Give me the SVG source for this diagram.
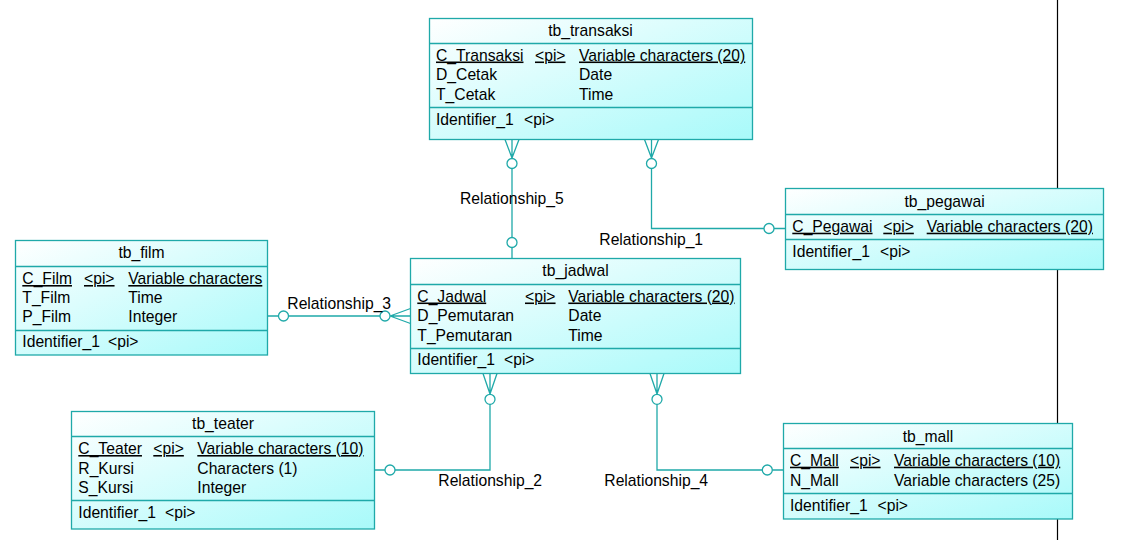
<svg xmlns="http://www.w3.org/2000/svg" width="1121" height="540" viewBox="0 0 1121 540">
<defs>
<linearGradient id="g" x1="0" y1="0" x2="1" y2="1">
<stop offset="0" stop-color="#ffffff"/>
<stop offset="1" stop-color="#a8fafa"/>
</linearGradient>
<style>
.box{fill:url(#g);stroke:#1fa9a9;stroke-width:1.3}
.div{stroke:#1fa9a9;stroke-width:1.3}
text{font-family:"Liberation Sans",Arial,sans-serif;font-size:15.7px;fill:#000}
.t{text-anchor:middle}
.u{text-decoration:underline}
.c{fill:none;stroke:#1fa9a9;stroke-width:1.3}
.ci{fill:#fff;stroke:#1fa9a9;stroke-width:1.3}
</style>
</defs>
<rect width="1121" height="540" fill="#fff"/>
<line x1="1057.5" y1="0" x2="1057.5" y2="540" stroke="#000" stroke-width="1.2"/>

<g id="connectors">
<!-- Relationship_5 -->
<path class="c" d="M512,158 L505,139.5 M512,158 L512,139.5 M512,158 L519,139.5 M512,168.5 L512,237.5 M512,247.5 L512,258.5"/>
<circle class="ci" cx="512" cy="163.5" r="5"/>
<circle class="ci" cx="512" cy="242.5" r="5"/>
<text x="460" y="203.5">Relationship_5</text>
<!-- Relationship_1 -->
<path class="c" d="M651.5,158 L644.5,139.5 M651.5,158 L651.5,139.5 M651.5,158 L658.5,139.5 M651.5,168.5 L651.5,228.5 L764,228.5 M774,228.5 L785.5,228.5"/>
<circle class="ci" cx="651.5" cy="163.5" r="5"/>
<circle class="ci" cx="769" cy="228.5" r="5"/>
<text x="599.3" y="244.5">Relationship_1</text>
<!-- Relationship_3 -->
<path class="c" d="M267.5,316 L278.5,316 M288.5,316 L380,316 M390,316 L410.5,308.5 M390,316 L410.5,316 M390,316 L410.5,323.5"/>
<circle class="ci" cx="283.5" cy="316" r="5"/>
<circle class="ci" cx="385" cy="316" r="5"/>
<text x="287.3" y="309">Relationship_3</text>
<!-- Relationship_2 -->
<path class="c" d="M490,394 L483,373.5 M490,394 L490,373.5 M490,394 L497,373.5 M490,404.3 L490,470 L395,470 M385,470 L374.5,470"/>
<circle class="ci" cx="490" cy="399.3" r="5"/>
<circle class="ci" cx="390" cy="470" r="5"/>
<text x="438.3" y="486">Relationship_2</text>
<!-- Relationship_4 -->
<path class="c" d="M657,394 L650,373.5 M657,394 L657,373.5 M657,394 L664,373.5 M657,404.3 L657,470 L762.3,470 M772.3,470 L783.5,470"/>
<circle class="ci" cx="657" cy="399.3" r="5"/>
<circle class="ci" cx="767.3" cy="470" r="5"/>
<text x="604.3" y="485.5">Relationship_4</text>
</g>

<g id="tb_transaksi">
<rect class="box" x="429.5" y="18.5" width="323" height="121"/>
<line class="div" x1="429.5" y1="43.5" x2="752.5" y2="43.5"/>
<line class="div" x1="429.5" y1="107.5" x2="752.5" y2="107.5"/>
<text class="t" x="590.5" y="36">tb_transaksi</text>
<text class="u" x="436" y="60.5">C_Transaksi</text>
<text class="u" x="535" y="60.5">&lt;pi&gt;</text>
<text class="u" x="579" y="60.5">Variable characters (20)</text>
<text x="436" y="80">D_Cetak</text>
<text x="579" y="80">Date</text>
<text x="436" y="99.5">T_Cetak</text>
<text x="579" y="99.5">Time</text>
<text x="436" y="125">Identifier_1</text>
<text x="524" y="125">&lt;pi&gt;</text>
</g>

<g id="tb_film">
<rect class="box" x="15.5" y="240.5" width="252" height="114.5"/>
<line class="div" x1="15.5" y1="266.5" x2="267.5" y2="266.5"/>
<line class="div" x1="15.5" y1="330.5" x2="267.5" y2="330.5"/>
<text class="t" x="141.5" y="258">tb_film</text>
<text class="u" x="22.3" y="284">C_Film</text>
<text class="u" x="84" y="284">&lt;pi&gt;</text>
<text class="u" x="128.3" y="284">Variable characters</text>
<text x="22.3" y="303">T_Film</text>
<text x="128.3" y="303">Time</text>
<text x="22.3" y="322">P_Film</text>
<text x="128.3" y="322">Integer</text>
<text x="22.3" y="347.3">Identifier_1</text>
<text x="108" y="347.3">&lt;pi&gt;</text>
</g>

<g id="tb_jadwal">
<rect class="box" x="410.5" y="258.5" width="330" height="115"/>
<line class="div" x1="410.5" y1="284.5" x2="740.5" y2="284.5"/>
<line class="div" x1="410.5" y1="348.5" x2="740.5" y2="348.5"/>
<text class="t" x="575.5" y="276">tb_jadwal</text>
<text class="u" x="417.3" y="301.5">C_Jadwal</text>
<text class="u" x="525" y="301.5">&lt;pi&gt;</text>
<text class="u" x="568.3" y="301.5">Variable characters (20)</text>
<text x="417.3" y="321">D_Pemutaran</text>
<text x="568.3" y="321">Date</text>
<text x="417.3" y="340.5">T_Pemutaran</text>
<text x="568.3" y="340.5">Time</text>
<text x="417.3" y="365">Identifier_1</text>
<text x="504" y="365">&lt;pi&gt;</text>
</g>

<g id="tb_teater">
<rect class="box" x="71.5" y="411.5" width="303" height="117.5"/>
<line class="div" x1="71.5" y1="436.5" x2="374.5" y2="436.5"/>
<line class="div" x1="71.5" y1="500.5" x2="374.5" y2="500.5"/>
<text class="t" x="223" y="428.5">tb_teater</text>
<text class="u" x="78.3" y="454">C_Teater</text>
<text class="u" x="153.3" y="454">&lt;pi&gt;</text>
<text class="u" x="197.3" y="454">Variable characters (10)</text>
<text x="78.3" y="473.5">R_Kursi</text>
<text x="197.3" y="473.5">Characters (1)</text>
<text x="78.3" y="493">S_Kursi</text>
<text x="197.3" y="493">Integer</text>
<text x="78.3" y="517.5">Identifier_1</text>
<text x="165" y="517.5">&lt;pi&gt;</text>
</g>

<g id="tb_pegawai">
<rect class="box" x="785.5" y="188.5" width="318" height="81"/>
<line class="div" x1="785.5" y1="214.5" x2="1103.5" y2="214.5"/>
<line class="div" x1="785.5" y1="239.5" x2="1103.5" y2="239.5"/>
<text class="t" x="944.5" y="207">tb_pegawai</text>
<text class="u" x="792.3" y="231.7">C_Pegawai</text>
<text class="u" x="883.3" y="231.7">&lt;pi&gt;</text>
<text class="u" x="926.7" y="231.7">Variable characters (20)</text>
<text x="792.3" y="256.7">Identifier_1</text>
<text x="880" y="256.7">&lt;pi&gt;</text>
</g>

<g id="tb_mall">
<rect class="box" x="783.5" y="423.5" width="289" height="95.5"/>
<line class="div" x1="783.5" y1="448.5" x2="1072.5" y2="448.5"/>
<line class="div" x1="783.5" y1="493.5" x2="1072.5" y2="493.5"/>
<text class="t" x="928" y="442">tb_mall</text>
<text class="u" x="790" y="465.7">C_Mall</text>
<text class="u" x="850" y="465.7">&lt;pi&gt;</text>
<text class="u" x="894" y="465.7">Variable characters (10)</text>
<text x="790" y="485.5">N_Mall</text>
<text x="894" y="485.5">Variable characters (25)</text>
<text x="790" y="510.7">Identifier_1</text>
<text x="877.5" y="510.7">&lt;pi&gt;</text>
</g>
</svg>
